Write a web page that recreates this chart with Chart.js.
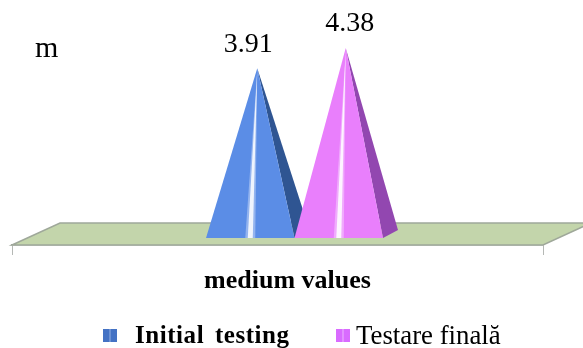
<!DOCTYPE html>
<html>
<head>
<meta charset="utf-8">
<script src="https://cdn.jsdelivr.net/npm/chart.js@4"></script>
<style>
    html, body { margin: 0; padding: 0; background: #fff; overflow: hidden; }
    #wrap { position: relative; width: 583px; height: 348px; font-family: "Liberation Serif", serif; color: #000; }
    .legend-mark { position: absolute; top: 329px; width: 14px; height: 13px; }
    .legend-text { position: absolute; top: 320px; line-height: 30px; white-space: nowrap; }
    #unit { position: absolute; left: 35px; top: 31px; font-size: 30px; line-height: 32px; }
</style>
</head>
<body>
<div id="wrap">
    <canvas id="pyramid-chart" width="583" height="348"></canvas>
    <div id="unit">m</div>
    <div class="legend-mark" style="left:103px;background:linear-gradient(90deg,#4472c4 44%,#a9c0ea 50%,#4472c4 56%)"></div>
    <div class="legend-text" style="left:135px;font-size:25px;font-weight:bold;word-spacing:4px;letter-spacing:.55px">Initial testing</div>
    <div class="legend-mark" style="left:336px;background:linear-gradient(90deg,#d96bff 44%,#f3c9ff 50%,#d96bff 56%)"></div>
    <div class="legend-text" style="left:356px;font-size:26.8px">Testare finală</div>
</div>
<script>
const categories = ['medium values'];
const seriesNames = ['Initial testing', 'Testare finală'];
const initialValues = [3.91];
const finalValues = [4.38];
const faceColors = ['#5b8de6', '#e97ffc'];
const sideColors = ['#2f5592', '#9247b0'];

// the 3d look: bars stand halfway back on the floor
const floorDepthX = 48, floorDepthY = 22;
const standX = 17, standY = 7;
const sideX = 15, sideY = 8;

function drawFloor(chart) {
    const { ctx, chartArea: a } = chart;
    ctx.save();
    ctx.beginPath();
    ctx.moveTo(a.left, a.bottom);
    ctx.lineTo(a.left + floorDepthX, a.bottom - floorDepthY);
    ctx.lineTo(a.right + floorDepthX, a.bottom - floorDepthY);
    ctx.lineTo(a.right, a.bottom);
    ctx.closePath();
    ctx.fillStyle = '#c3d5ab';
    ctx.strokeStyle = '#9fa89a';
    ctx.lineWidth = 1.5;
    ctx.fill();
    ctx.stroke();
    ctx.restore();
}

function drawPyramid(ctx, bar, i, value) {
    const half = bar.width / 2;
    const cx = bar.x + standX;
    const baseY = bar.base - standY;
    const topX = cx + 7;
    const topY = bar.y - standY;

    ctx.beginPath();
    ctx.moveTo(topX, topY);
    ctx.lineTo(cx + half, baseY);
    ctx.lineTo(cx + half + sideX, baseY - sideY);
    ctx.closePath();
    ctx.fillStyle = sideColors[i];
    ctx.fill();

    ctx.beginPath();
    ctx.moveTo(topX, topY);
    ctx.lineTo(cx - half, baseY);
    ctx.lineTo(cx + half, baseY);
    ctx.closePath();
    ctx.fillStyle = faceColors[i];
    ctx.fill();

    // light stripe down the front
    [[5, 'rgba(255,255,255,0.35)'], [2.5, 'rgba(255,255,255,0.85)']].forEach(([w, color]) => {
        ctx.beginPath();
        ctx.moveTo(topX, topY + 2);
        ctx.lineTo(cx - w, baseY);
        ctx.lineTo(cx + w, baseY);
        ctx.closePath();
        ctx.fillStyle = color;
        ctx.fill();
    });

    ctx.fillStyle = '#000';
    ctx.font = '28px "Liberation Serif", serif';
    ctx.textAlign = 'center';
    ctx.textBaseline = 'alphabetic';
    ctx.fillText(value.toFixed(2), topX - 9 + i * 13, topY - 16 - i);
}

const pyramidPlugin = {
    id: 'pyramids',
    beforeDatasetsDraw(chart) {
        drawFloor(chart);
        chart.data.datasets.forEach((d, i) => {
            chart.ctx.save();
            drawPyramid(chart.ctx, chart.getDatasetMeta(i).data[0], i, d.data[0]);
            chart.ctx.restore();
        });
    },
    // pyramids are already painted, skip the plain bars
    beforeDatasetDraw() { return false; }
};

new Chart(document.getElementById('pyramid-chart'), {
    type: 'bar',
    data: {
        labels: categories,
        datasets: [
            { label: seriesNames[0], data: initialValues, backgroundColor: faceColors[0] },
            { label: seriesNames[1], data: finalValues, backgroundColor: faceColors[1] }
        ]
    },
    options: {
        responsive: false,
        animation: false,
        events: [],
        categoryPercentage: 0.3333,
        barPercentage: 1,
        layout: { padding: { top: 28, left: 12, right: 40, bottom: 0 } },
        plugins: { legend: { display: false }, tooltip: { enabled: false } },
        scales: {
            y: { display: false, min: 0, max: 5 },
            x: {
                afterFit: (s) => { s.height = 103; },
                border: { color: '#a5a8a5', width: 1.5 },
                grid: { drawOnChartArea: false, color: '#b5b8b5', tickLength: 10 },
                ticks: {
                    color: '#000',
                    padding: 11,
                    labelOffset: 10,
                    maxRotation: 0,
                    font: { family: '"Liberation Serif", serif', size: 26, weight: 'bold' }
                }
            }
        }
    },
    plugins: [pyramidPlugin]
});
</script>
</body>
</html>
